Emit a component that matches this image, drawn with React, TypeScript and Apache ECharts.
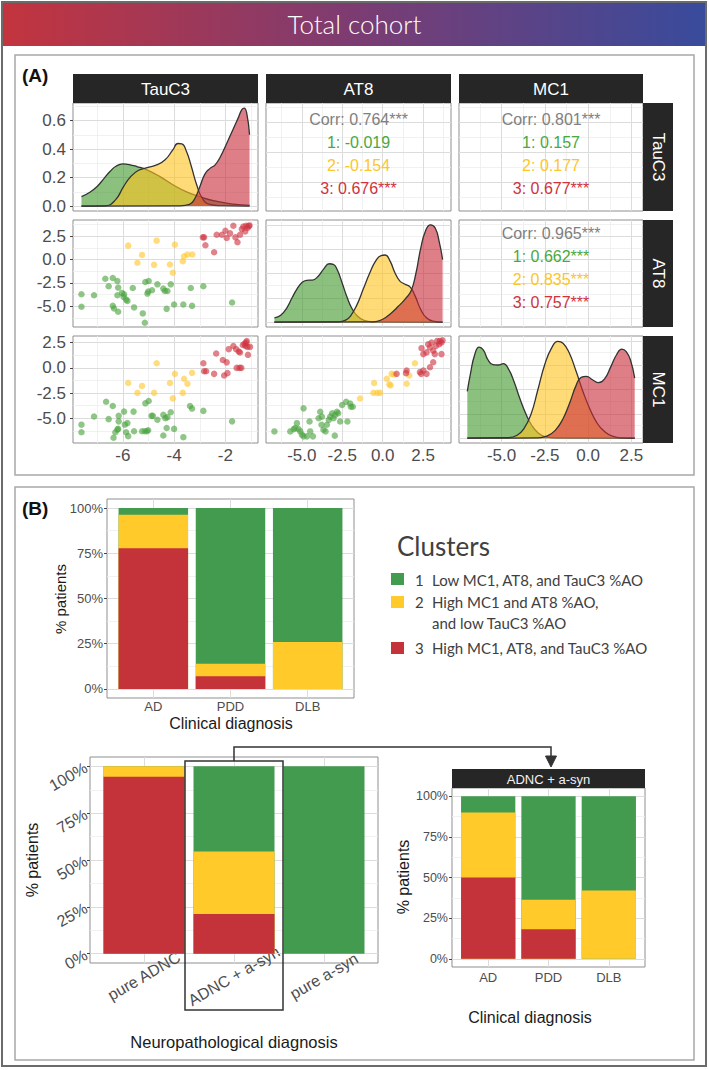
import React, { useEffect, useRef } from "react";
import * as echarts from "echarts";

type Pt = [number, number];

// ---------------- variables / clusters ----------------
const varNames = ["TauC3", "AT8", "MC1"];
const clusterIds = ["1", "2", "3"];
const clusterLabels = [
  "Low MC1, AT8, and TauC3 %AO",
  "High MC1 and AT8 %AO,\nand low TauC3 %AO",
  "High MC1, AT8, and TauC3 %AO",
];

// ---------------- axis scales & ticks ----------------
const tauRange = [-7.94, -0.73];
const at8Range = [-7.21, 4.22];
const mc1Range = [-7.46, 3.17];
const densRange = [-0.0345, 0.7245];
const relRange = [-0.05, 1.05];
const pctRange = [-5, 105];
const catRange = [0.4, 3.6];

const tauTicks = [-6, -4, -2];
const tauMinor = [-7, -5, -3, -1];
const at8Ticks = [-5, -2.5, 0, 2.5];
const at8Minor = [-6.25, -3.75, -1.25, 1.25, 3.75];
const mc1Ticks = [-5, -2.5, 0, 2.5];
const mc1Minor = [-6.25, -3.75, -1.25, 1.25];
const densTicks = [0, 0.2, 0.4, 0.6];
const densMinor = [0.1, 0.3, 0.5, 0.7];
const relTicks = [0, 0.25, 0.5, 0.75, 1];
const relMinor = [0.125, 0.375, 0.625, 0.875];
const pctTicks = [0, 25, 50, 75, 100];
const pctMinor = [12.5, 37.5, 62.5, 87.5];
const catTicks = [1, 2, 3];

// ---------------- correlations ----------------
const corrTauAt8 = ["Corr: 0.764***", "1: -0.019", "2: -0.154", "3: 0.676***"];
const corrTauMc1 = ["Corr: 0.801***", "1: 0.157", "2: 0.177", "3: 0.677***"];
const corrAt8Mc1 = ["Corr: 0.965***", "1: 0.662***", "2: 0.835***", "3: 0.757***"];

// ---------------- scatter: TauC3 vs AT8 ----------------
const tauAt8C1: Pt[] = [[-7.61,-3.71],[-7.61,-5.05],[-7.12,-3.82],[-6.68,-2.05],[-6.55,-2.86],[-6.39,-1.98],[-6.21,-2.30],[-6.18,-3.00],[-6.21,-3.82],[-6.03,-3.57],[-5.97,-3.99],[-5.95,-3.71],[-5.87,-4.28],[-5.82,-4.42],[-6.39,-4.95],[-6.34,-5.23],[-6.18,-5.58],[-5.56,-5.12],[-5.61,-3.04],[-5.22,-5.76],[-5.14,-6.75],[-5.12,-2.40],[-4.99,-2.30],[-5.01,-3.43],[-5.04,-3.64],[-4.86,-3.29],[-4.65,-2.65],[-4.42,-3.11],[-4.36,-3.36],[-4.26,-3.36],[-4.13,-2.65],[-4.29,-5.27],[-4.00,-4.81],[-3.64,-4.81],[-3.30,-4.95],[-3.35,-3.04],[-2.86,-2.86],[-1.74,-4.59]];
const tauAt8C2: Pt[] = [[-5.79,1.48],[-5.25,0.49],[-5.43,-0.35],[-4.68,2.01],[-4.78,-0.57],[-3.97,1.59],[-4.16,-0.53],[-4.05,-1.41],[-3.66,-0.18],[-3.61,0.35],[-3.48,0.53],[-3.29,0.53]];
const tauAt8C3: Pt[] = [[-2.88,2.37],[-2.83,2.37],[-2.78,1.52],[-2.44,0.78],[-2.34,2.65],[-2.14,2.65],[-2.00,3.07],[-1.95,2.30],[-1.82,2.79],[-1.69,3.60],[-1.61,2.37],[-1.53,1.84],[-1.43,2.65],[-1.36,3.25],[-1.30,3.53],[-1.23,3.00],[-1.19,3.60],[-1.14,3.36],[-1.09,3.57],[-1.06,3.64]];

// ---------------- scatter: TauC3 vs MC1 ----------------
const tauMc1C1: Pt[] = [[-7.61,-5.64],[-7.61,-6.39],[-7.12,-4.83],[-6.65,-3.36],[-6.55,-5.09],[-6.39,-3.78],[-6.16,-4.76],[-6.16,-5.31],[-6.18,-6.06],[-6.21,-6.13],[-5.95,-4.34],[-5.92,-5.64],[-5.82,-5.48],[-5.87,-6.39],[-6.36,-6.94],[-6.29,-6.39],[-5.79,-6.78],[-5.58,-4.34],[-5.56,-6.29],[-5.25,-6.29],[-5.14,-6.29],[-5.06,-6.29],[-5.01,-6.19],[-5.12,-3.52],[-4.99,-3.29],[-4.88,-4.76],[-4.83,-4.76],[-4.65,-5.15],[-4.42,-4.66],[-4.34,-4.99],[-4.26,-4.89],[-4.13,-4.40],[-4.42,-6.72],[-4.29,-5.97],[-4.00,-6.06],[-3.64,-6.88],[-3.38,-3.78],[-3.30,-4.04],[-2.86,-4.27],[-1.74,-5.31]];
const tauMc1C2: Pt[] = [[-5.79,-1.50],[-5.43,-2.48],[-5.25,-1.79],[-4.78,-2.48],[-4.68,0.46],[-4.16,-1.50],[-4.05,-3.03],[-3.97,-0.59],[-3.66,-2.48],[-3.61,-1.08],[-3.48,-1.57],[-3.30,-0.49]];
const tauMc1C3: Pt[] = [[-2.86,0.46],[-2.83,-0.33],[-2.75,-0.33],[-2.36,1.43],[-2.44,-0.59],[-2.10,0.78],[-2.05,-0.75],[-1.95,0.55],[-1.92,-0.52],[-1.87,1.86],[-1.69,2.18],[-1.58,1.86],[-1.48,1.63],[-1.43,1.53],[-1.56,0.0],[-1.45,0.0],[-1.38,0.0],[-1.32,2.28],[-1.25,2.41],[-1.19,2.51],[-1.14,2.09],[-1.12,1.30],[-1.04,2.09],[-1.17,2.67],[-1.22,2.18]];

// ---------------- scatter: AT8 vs MC1 ----------------
const at8Mc1C1: Pt[] = [[-6.69,-6.31],[-5.71,-6.31],[-5.50,-6.08],[-5.40,-5.98],[-5.20,-6.08],[-5.09,-6.31],[-4.99,-6.63],[-4.89,-4.02],[-4.89,-6.80],[-4.68,-6.80],[-4.52,-5.33],[-4.48,-6.31],[-4.31,-6.80],[-3.86,-4.35],[-3.78,-5.65],[-3.66,-6.14],[-3.53,-6.31],[-3.33,-5.16],[-3.24,-4.84],[-3.12,-4.51],[-3.04,-5.00],[-2.96,-6.73],[-2.94,-4.67],[-2.83,-4.35],[-2.75,-4.51],[-2.63,-5.33],[-2.51,-3.69],[-2.26,-3.37],[-2.18,-5.33],[-2.01,-3.53],[-1.97,-3.86],[-1.85,-3.86],[-5.30,-5.49],[-3.96,-5.00],[-3.45,-5.65],[-3.76,-4.84]];
const at8Mc1C2: Pt[] = [[-1.40,-3.04],[-0.53,-1.50],[-0.57,-2.48],[-0.33,-2.48],[-0.16,-2.48],[0.25,-1.08],[0.41,-1.63],[0.49,-1.73],[0.55,-0.59],[0.70,-0.65],[1.48,-1.57],[1.64,-0.75],[1.99,0.46]];
const at8Mc1C3: Pt[] = [[2.40,1.96],[2.51,1.37],[2.71,1.54],[2.81,2.35],[2.92,2.03],[3.02,2.52],[3.12,1.70],[3.22,1.37],[3.29,2.19],[3.37,2.68],[3.49,2.35],[3.53,2.68],[3.63,2.52],[3.70,2.75],[3.63,1.37],[3.12,0.56],[2.92,0.07],[2.30,-0.42],[2.38,-0.59],[1.48,-0.26],[1.44,-0.52],[0.86,-0.59],[2.71,-0.59],[2.51,-0.26]];

// ---------------- densities ----------------
const densTauC1: Pt[] = [[-7.61,0.066],[-7.30,0.095],[-7.01,0.136],[-6.75,0.19],[-6.49,0.245],[-6.25,0.282],[-6.00,0.296],[-5.75,0.292],[-5.45,0.278],[-5.06,0.254],[-4.55,0.207],[-4.03,0.148],[-3.51,0.10],[-2.99,0.066],[-2.47,0.038],[-1.69,0.014],[-1.06,0.005]];
const densTauC2: Pt[] = [[-7.61,0],[-6.70,0.002],[-6.30,0.04],[-5.97,0.137],[-5.70,0.205],[-5.40,0.250],[-5.05,0.270],[-4.68,0.289],[-4.35,0.325],[-4.05,0.395],[-3.85,0.440],[-3.70,0.438],[-3.52,0.385],[-3.33,0.280],[-3.12,0.150],[-2.90,0.055],[-2.62,0.012],[-2.20,0.003],[-1.06,0]];
const densTauC3: Pt[] = [[-7.61,0],[-3.77,0.002],[-3.40,0.012],[-3.20,0.05],[-2.99,0.140],[-2.80,0.225],[-2.60,0.265],[-2.40,0.290],[-2.20,0.345],[-1.95,0.440],[-1.70,0.540],[-1.50,0.620],[-1.36,0.678],[-1.27,0.689],[-1.17,0.654],[-1.06,0.501]];
const densAt8C1: Pt[] = [[-6.69,0.044],[-6.30,0.07],[-5.91,0.150],[-5.60,0.250],[-5.30,0.340],[-5.00,0.405],[-4.70,0.430],[-4.35,0.432],[-4.00,0.470],[-3.65,0.545],[-3.30,0.600],[-3.05,0.595],[-2.80,0.535],[-2.50,0.400],[-2.20,0.255],[-1.90,0.140],[-1.55,0.060],[-1.15,0.018],[-0.60,0.003],[3.70,0]];
const densAt8C2: Pt[] = [[-6.69,0],[-2.70,0.003],[-2.30,0.020],[-2.00,0.060],[-1.60,0.175],[-1.20,0.340],[-0.80,0.505],[-0.45,0.625],[-0.10,0.685],[0.15,0.690],[0.45,0.630],[0.75,0.510],[1.05,0.425],[1.35,0.392],[1.70,0.360],[2.00,0.270],[2.35,0.130],[2.70,0.045],[3.10,0.010],[3.70,0]];
const densAt8C3: Pt[] = [[-6.69,0],[-0.60,0.003],[0.00,0.030],[0.50,0.090],[0.95,0.160],[1.40,0.240],[1.75,0.320],[2.05,0.500],[2.35,0.760],[2.65,0.940],[2.95,1.0],[3.25,0.965],[3.50,0.820],[3.70,0.642]];
const densMc1C1: Pt[] = [[-6.98,0.48],[-6.80,0.66],[-6.55,0.86],[-6.30,0.935],[-6.05,0.905],[-5.80,0.810],[-5.50,0.755],[-5.20,0.752],[-4.90,0.765],[-4.60,0.710],[-4.30,0.590],[-3.95,0.410],[-3.60,0.250],[-3.25,0.130],[-2.90,0.055],[-2.50,0.016],[-1.80,0.002],[2.69,0]];
const densMc1C2: Pt[] = [[-6.98,0],[-4.60,0.005],[-4.10,0.030],[-3.70,0.100],[-3.30,0.245],[-2.90,0.500],[-2.50,0.760],[-2.10,0.930],[-1.75,0.995],[-1.45,0.975],[-1.10,0.880],[-0.70,0.690],[-0.30,0.480],[0.10,0.300],[0.50,0.160],[0.90,0.075],[1.40,0.020],[2.00,0.002],[2.69,0]];
const densMc1C3: Pt[] = [[-6.98,0],[-2.90,0.002],[-2.40,0.020],[-1.90,0.080],[-1.45,0.200],[-1.05,0.370],[-0.70,0.540],[-0.40,0.625],[-0.10,0.635],[0.25,0.600],[0.60,0.570],[0.95,0.610],[1.30,0.730],[1.65,0.860],[1.95,0.915],[2.20,0.890],[2.45,0.800],[2.69,0.616]];

// ---------------- bar charts (% patients) ----------------
const clinCats = ["AD", "PDD", "DLB"];
const clinC1 = [3.7, 86, 74];
const clinC2 = [18.5, 7, 26];
const clinC3 = [77.8, 7, 0];

const neuroCats = ["pure ADNC", "ADNC + a-syn", "pure a-syn"];
const neuroC1 = [0, 45.5, 100];
const neuroC2 = [5.6, 33.3, 0];
const neuroC3 = [94.4, 21.2, 0];

const mixCats = ["AD", "PDD", "DLB"];
const mixC1 = [10, 63.6, 58];
const mixC2 = [40, 18.2, 42];
const mixC3 = [50, 18.2, 0];

// ---------------- styles ----------------
const FONT = "'Liberation Sans', Arial, Helvetica, sans-serif";
const LFONT = "Lato, 'Open Sans', sans-serif";
const BAR_COL = ["#439b50", "#ffca2a", "#c5333a"];
const PT_COL = ["#4aa33f", "#ffc82e", "#cf3440"];
const DENS_FILL = ["rgba(62,150,40,0.6)", "rgba(255,195,30,0.6)", "rgba(200,40,55,0.6)"];
const CORR_COL = ["#808080", "#4aa83f", "#fcc62a", "#d0333c"];
const MAJ = "#dcdcdc";
const MIN = "#eeeeee";
const BORDER = "#8f8f8f";
const STRIP = "#262626";

function buildOption() {
  const grids: any[] = [];
  const xAxes: any[] = [];
  const yAxes: any[] = [];
  const series: any[] = [];
  const G: any[] = [];

  const addGrid = (left: number, top: number, width: number, height: number) => {
    grids.push({ left, top, width, height, show: true, borderColor: BORDER, borderWidth: 1, backgroundColor: "#ffffff", containLabel: false, outerBoundsMode: "none" });
    return grids.length - 1;
  };

  const vAxis = (gi: number, range: number[], labels: number[] | null, fmt: (v: number) => string, fs: number, margin: number, extra: any = {}) => ({
    type: "value", gridIndex: gi, min: range[0], max: range[1],
    axisLine: { show: false },
    splitLine: { show: false },
    minorSplitLine: { show: false },
    axisTick: labels ? { show: true, length: 3, lineStyle: { color: "#444", width: 1 }, customValues: labels } : { show: false },
    axisLabel: labels
      ? { show: true, customValues: labels, formatter: fmt, color: "#4d4d4d", fontSize: fs, fontFamily: FONT, margin, ...extra }
      : { show: false },
  });

  const inR = (r: number[]) => (v: number) => v > r[0] && v < r[1];
  const gridLines = (gi: number, xr: number[], xMaj: number[], xMin: number[], yr: number[], yMaj: number[], yMin: number[]) => ({
    type: "line", xAxisIndex: gi, yAxisIndex: gi, data: [], silent: true, z: 1,
    markLine: {
      z: 1, silent: true, symbol: ["none", "none"], label: { show: false }, animation: false,
      emphasis: { disabled: true },
      data: [
        ...xMin.filter(inR(xr)).map((v) => ({ xAxis: v, lineStyle: { color: MIN, width: 0.8, type: "solid" } })),
        ...yMin.filter(inR(yr)).map((v) => ({ yAxis: v, lineStyle: { color: MIN, width: 0.8, type: "solid" } })),
        ...xMaj.filter(inR(xr)).map((v) => ({ xAxis: v, lineStyle: { color: MAJ, width: 1, type: "solid" } })),
        ...yMaj.filter(inR(yr)).map((v) => ({ yAxis: v, lineStyle: { color: MAJ, width: 1, type: "solid" } })),
      ],
    },
  });

  // ================= PANEL A =================
  const colX = [73, 266, 459];
  const colW = [185, 185, 184];
  const rowY = [103, 220, 336];
  const rowH = [108, 107, 107];
  const f1 = (v: number) => v.toFixed(1);
  const f0 = (v: number) => String(v);
  const varInfo = [
    { range: tauRange, ticks: tauTicks, minor: tauMinor, fmt: f0 },
    { range: at8Range, ticks: at8Ticks, minor: at8Minor, fmt: f1 },
    { range: mc1Range, ticks: mc1Ticks, minor: mc1Minor, fmt: f1 },
  ];
  const densInfo = { range: densRange, ticks: densTicks, minor: densMinor, fmt: f1 };
  const relInfo = { range: relRange, ticks: relTicks, minor: relMinor, fmt: f1 };
  const densSets = [
    [densTauC1, densTauC2, densTauC3],
    [densAt8C1, densAt8C2, densAt8C3],
    [densMc1C1, densMc1C2, densMc1C3],
  ];
  const scatterSets: Record<string, Pt[][]> = {
    "1-0": [tauAt8C1, tauAt8C2, tauAt8C3],
    "2-0": [tauMc1C1, tauMc1C2, tauMc1C3],
    "2-1": [at8Mc1C1, at8Mc1C2, at8Mc1C3],
  };
  const corrSets: Record<string, string[]> = {
    "0-1": corrTauAt8,
    "0-2": corrTauMc1,
    "1-2": corrAt8Mc1,
  };
  const corrStart = [119, 233.5];

  for (let r = 0; r < 3; r++) {
    for (let c = 0; c < 3; c++) {
      const gi = addGrid(colX[c], rowY[r], colW[c], rowH[r]);
      const xv = varInfo[c];
      const yv = r === c ? (r === 0 ? densInfo : relInfo) : varInfo[r];
      xAxes.push(vAxis(gi, xv.range, r === 2 ? xv.ticks : null, xv.fmt, 17, 4));
      yAxes.push(vAxis(gi, yv.range, c === 0 ? yv.ticks : null, yv.fmt, 17, 7));
      series.push(gridLines(gi, xv.range, xv.ticks, xv.minor, yv.range, yv.ticks, yv.minor));
      if (r === c) {
        densSets[r].forEach((d, k) => {
          series.push({
            type: "line", xAxisIndex: gi, yAxisIndex: gi, data: d, smooth: 0.5,
            symbol: "none", showSymbol: false, silent: true, z: 3 + k,
            lineStyle: { color: "#333333", width: 1.3 },
            areaStyle: { color: DENS_FILL[k], opacity: 1 },
          });
        });
      } else if (r > c) {
        scatterSets[`${r}-${c}`].forEach((d, k) => {
          series.push({
            type: "scatter", xAxisIndex: gi, yAxisIndex: gi, data: d, symbolSize: 6.5, silent: true, z: 3 + k,
            itemStyle: { color: PT_COL[k], opacity: 0.62 },
          });
        });
      } else {
        const lines = corrSets[`${r}-${c}`];
        lines.forEach((t, k) => {
          G.push({
            type: "text", x: colX[c] + colW[c] / 2, y: corrStart[r] + k * 23, z: 50,
            style: { text: t, fill: CORR_COL[k], fontSize: 16, fontFamily: FONT, align: "center", verticalAlign: "middle" },
          });
        });
      }
    }
  }

  // strips
  for (let c = 0; c < 3; c++) {
    G.push({ type: "rect", shape: { x: colX[c], y: 74, width: colW[c], height: 29 }, style: { fill: STRIP } });
    G.push({ type: "text", x: colX[c] + colW[c] / 2, y: 89, style: { text: varNames[c], fill: "#ffffff", fontSize: 17, fontFamily: FONT, align: "center", verticalAlign: "middle" } });
  }
  for (let r = 0; r < 3; r++) {
    G.push({ type: "rect", shape: { x: 643, y: rowY[r], width: 30, height: rowH[r] }, style: { fill: STRIP } });
    G.push({ type: "text", x: 658, y: rowY[r] + rowH[r] / 2, rotation: -Math.PI / 2, style: { text: varNames[r], fill: "#ffffff", fontSize: 17, fontFamily: FONT, align: "center", verticalAlign: "middle" } });
  }

  // ================= PANEL B bars =================
  const barPanel = (left: number, top: number, width: number, height: number, cats: string[], c1: number[], c2: number[], c3: number[], xfs: number, yfs: number, xExtra: any, yExtra: any, xMargin: number, yMargin: number) => {
    const gi = addGrid(left, top, width, height);
    xAxes.push(vAxis(gi, catRange, catTicks, (v: number) => cats[Math.round(v) - 1] ?? "", xfs, xMargin, xExtra));
    yAxes.push(vAxis(gi, pctRange, pctTicks, (v: number) => `${v}%`, yfs, yMargin, yExtra));
    series.push(gridLines(gi, catRange, catTicks, [], pctRange, pctTicks, pctMinor));
    const lvl1 = cats.map((_, k) => [k + 1, c3[k] + c2[k] + c1[k]]);
    const lvl2 = cats.map((_, k) => [k + 1, c3[k] + c2[k]]);
    const lvl3 = cats.map((_, k) => [k + 1, c3[k]]);
    [lvl1, lvl2, lvl3].forEach((d, k) => {
      series.push({
        type: "bar", xAxisIndex: gi, yAxisIndex: gi, data: d, barWidth: "90%", barGap: "-100%", silent: true, z: 3 + k,
        itemStyle: { color: BAR_COL[k] },
      });
    });
  };
  barPanel(107, 499, 247, 199, clinCats, clinC1, clinC2, clinC3, 13, 13, {}, {}, 2, 4);
  barPanel(90, 757, 288, 206, neuroCats, neuroC1, neuroC2, neuroC3, 16, 16,
    { rotate: 30, align: "center", verticalAlign: "middle" }, { rotate: 30 }, 13, 4);
  barPanel(452, 788, 193, 179, mixCats, mixC1, mixC2, mixC3, 13, 12.5, {}, {}, 4, 4);

  // ================= decorations =================
  const deco: any[] = [];
  deco.push({
    type: "rect", shape: { x: 3, y: 3, width: 703, height: 43 },
    style: { fill: new echarts.graphic.LinearGradient(0, 0, 1, 0, [
      { offset: 0, color: "#c3343e" }, { offset: 0.5, color: "#7c3c72" }, { offset: 1, color: "#384b9c" },
    ]) },
  });
  deco.push({ type: "text", x: 354.5, y: 24, style: { text: "Total cohort", fill: "#ffffff", fontSize: 26, fontWeight: 300, fontFamily: LFONT, align: "center", verticalAlign: "middle" } });
  deco.push({ type: "rect", shape: { x: 2, y: 2, width: 704, height: 1064 }, style: { fill: "none", stroke: "#6b6b6b", lineWidth: 2 } });
  deco.push({ type: "rect", shape: { x: 15, y: 55, width: 679, height: 420 }, style: { fill: "none", stroke: "#a8a8a8", lineWidth: 1.5 } });
  deco.push({ type: "rect", shape: { x: 15, y: 487, width: 679, height: 573 }, style: { fill: "none", stroke: "#a8a8a8", lineWidth: 1.5 } });
  deco.push({ type: "text", x: 22, y: 75, style: { text: "(A)", fill: "#111", fontSize: 19, fontWeight: "bold", fontFamily: FONT, align: "left", verticalAlign: "middle" } });
  deco.push({ type: "text", x: 22, y: 508, style: { text: "(B)", fill: "#111", fontSize: 19, fontWeight: "bold", fontFamily: FONT, align: "left", verticalAlign: "middle" } });

  // axis titles (panel B)
  const title = (t: string, x: number, y: number, fs: number, rot = 0) => ({
    type: "text", x, y, rotation: rot,
    style: { text: t, fill: "#1a1a1a", fontSize: fs, fontFamily: FONT, align: "center", verticalAlign: "middle" },
  });
  deco.push(title("% patients", 60, 599, 15, Math.PI / 2));
  deco.push(title("Clinical diagnosis", 231, 723, 16));
  deco.push(title("% patients", 32, 860, 16, Math.PI / 2));
  deco.push(title("Neuropathological diagnosis", 234, 1042, 16.5));
  deco.push(title("% patients", 403, 877, 16, Math.PI / 2));
  deco.push(title("Clinical diagnosis", 530, 1017, 16));

  // facet strip of the small chart
  deco.push({ type: "rect", shape: { x: 452, y: 769, width: 193, height: 19 }, style: { fill: STRIP } });
  deco.push({ type: "text", x: 548.5, y: 779, style: { text: "ADNC + a-syn", fill: "#f2f2f2", fontSize: 13, fontFamily: FONT, align: "center", verticalAlign: "middle" } });

  // highlight box + connector arrow
  deco.push({ type: "rect", z: 20, shape: { x: 185, y: 761, width: 98, height: 249 }, style: { fill: "none", stroke: "#333", lineWidth: 1.5 } });
  deco.push({ type: "polyline", z: 20, shape: { points: [[234, 761], [234, 747], [551, 747], [551, 758]] }, style: { fill: "none", stroke: "#333", lineWidth: 1.5 } });
  deco.push({ type: "polygon", z: 20, shape: { points: [[545.5, 756], [556.5, 756], [551, 767]] }, style: { fill: "#333", stroke: "#333", lineWidth: 1 } });

  // legend
  deco.push({ type: "text", x: 397, y: 546, style: { text: "Clusters", fill: "#404040", fontSize: 26, fontFamily: LFONT, align: "left", verticalAlign: "middle" } });
  const legSq = [573, 596, 642];
  const legTx = [580, 602, 648];
  clusterLabels.forEach((lab, k) => {
    deco.push({ type: "rect", shape: { x: 391, y: legSq[k], width: 13, height: 12 }, style: { fill: BAR_COL[k] } });
    deco.push({ type: "text", x: 415, y: legTx[k], style: { text: clusterIds[k], fill: "#404040", fontSize: 15, fontFamily: LFONT, align: "left", verticalAlign: "middle" } });
    lab.split("\n").forEach((ln, j) => {
      deco.push({ type: "text", x: 432, y: legTx[k] + j * 21, style: { text: ln, fill: "#404040", fontSize: 15, fontFamily: LFONT, align: "left", verticalAlign: "middle" } });
    });
  });

  return {
    animation: false,
    backgroundColor: "#ffffff",
    textStyle: { fontFamily: FONT },
    grid: grids,
    xAxis: xAxes,
    yAxis: yAxes,
    series,
    graphic: { elements: [...deco, ...G] },
  };
}

export default function App() {
  const ref = useRef<HTMLDivElement>(null);
  useEffect(() => {
    document.body.style.margin = "0";
    const chart = echarts.init(ref.current as HTMLDivElement, null, { renderer: "svg", width: 709, height: 1070 });
    chart.setOption(buildOption() as any);
    return () => chart.dispose();
  }, []);
  return <div ref={ref} style={{ width: 709, height: 1070 }} />;
}
